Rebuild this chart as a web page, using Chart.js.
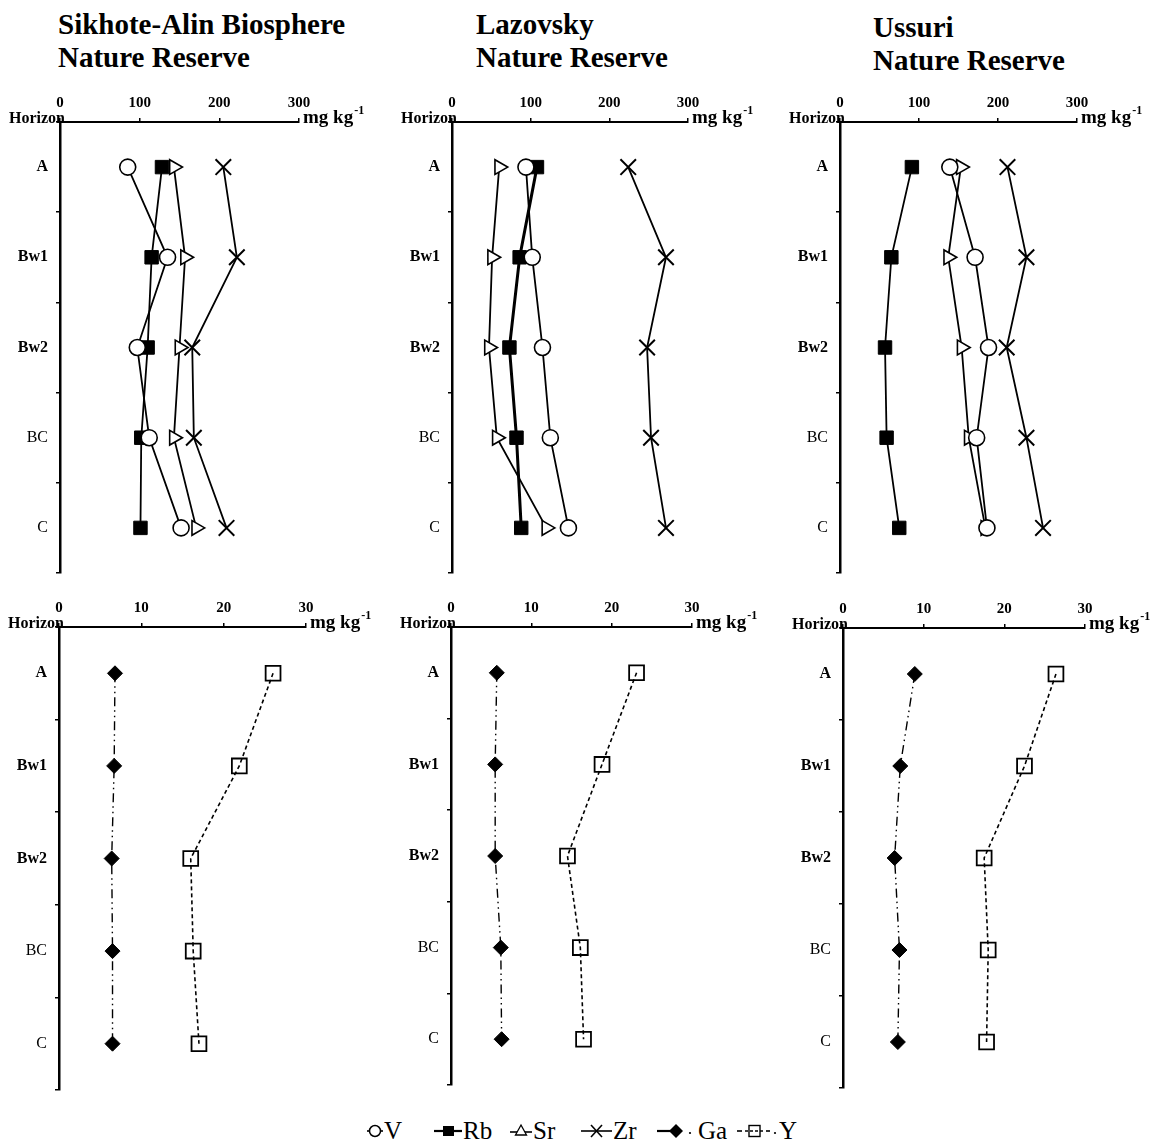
<!DOCTYPE html>
<html>
<head>
<meta charset="utf-8">
<script src="https://cdn.jsdelivr.net/npm/chart.js@4.4.1/dist/chart.umd.min.js"></script>
<style>
  body { margin: 0; background: #fff; width: 1151px; height: 1144px; position: relative; overflow: hidden;
         font-family: "Liberation Serif", "Times New Roman", serif; color: #000; }
  canvas { position: absolute; }
  .title { position: absolute; font-weight: bold; font-size: 29px; line-height: 33px; }
  .lg { position: absolute; top: 1117px; height: 28px; display: flex; align-items: center;
        font-size: 25px; white-space: nowrap; }
  .lg svg { margin-right: 1px; }
</style>
</head>
<body>
<div class="title" style="left:58px;top:8px">Sikhote-Alin Biosphere<br>Nature Reserve</div>
<div class="title" style="left:476px;top:8px">Lazovsky<br>Nature Reserve</div>
<div class="title" style="left:873px;top:11px">Ussuri<br>Nature Reserve</div>

<canvas id="c1"></canvas>
<canvas id="c2"></canvas>
<canvas id="c3"></canvas>
<canvas id="c4"></canvas>
<canvas id="c5"></canvas>
<canvas id="c6"></canvas>

<span class="lg" style="left:367px"><svg width="16" height="18"><line x1="0" y1="9" x2="16" y2="9" stroke="#000" stroke-width="1.6"/><circle cx="8" cy="9" r="5.5" fill="#fff" stroke="#000" stroke-width="1.5"/></svg>V</span>
<span class="lg" style="left:434px"><svg width="28" height="18"><line x1="0" y1="9" x2="28" y2="9" stroke="#000" stroke-width="2.2"/><rect x="9" y="4" width="11" height="10" fill="#000"/></svg>Rb</span>
<span class="lg" style="left:510px"><svg width="22" height="18"><line x1="0" y1="10" x2="22" y2="10" stroke="#000" stroke-width="1.6"/><polygon points="11,3 16.5,13 5.5,13" fill="#fff" stroke="#000" stroke-width="1.3"/></svg>Sr</span>
<span class="lg" style="left:581px"><svg width="31" height="18"><line x1="0" y1="9" x2="31" y2="9" stroke="#000" stroke-width="1.6"/><line x1="10" y1="3" x2="21" y2="15" stroke="#000" stroke-width="1.6"/><line x1="10" y1="15" x2="21" y2="3" stroke="#000" stroke-width="1.6"/></svg>Zr</span>
<span class="lg" style="left:657px"><svg width="40" height="18"><line x1="0" y1="9" x2="22" y2="9" stroke="#000" stroke-width="2.2"/><polygon points="19,2 26,9 19,16 12,9" fill="#000"/><circle cx="33" cy="11" r="1.1" fill="#000"/></svg>Ga</span>
<span class="lg" style="left:737px"><svg width="41" height="18"><line x1="0" y1="9" x2="5" y2="9" stroke="#000" stroke-width="1.6"/><rect x="12" y="3.5" width="11" height="11" fill="#fff" stroke="#000" stroke-width="1.4"/><line x1="8" y1="9" x2="28" y2="9" stroke="#000" stroke-width="1.3" stroke-dasharray="3,2"/><line x1="29" y1="9" x2="33" y2="9" stroke="#000" stroke-width="1.6"/><circle cx="38" cy="11" r="1.1" fill="#000"/></svg>Y</span>

<script>
const horizons = ['A', 'Bw1', 'Bw2', 'BC', 'C'];

// Sikhote-Alin Biosphere Nature Reserve
const sikhoteV = [85, 135, 97, 112, 152];
const sikhoteRb = [128, 115, 110, 102, 101];
const sikhoteSr = [143, 157, 150, 143, 171];
const sikhoteZr = [205, 222, 166, 168, 209];
const sikhoteGa = [6.8, 6.7, 6.4, 6.5, 6.5];
const sikhoteY = [26.0, 21.9, 16.0, 16.3, 17.0];

// Lazovsky Nature Reserve
const lazovskyV = [94, 102, 115, 125, 148];
const lazovskyRb = [108, 86, 73, 82, 88];
const lazovskySr = [60, 51, 47, 57, 120];
const lazovskyZr = [224, 272, 248, 253, 272];
const lazovskyGa = [5.7, 5.5, 5.5, 6.2, 6.3];
const lazovskyY = [23.1, 18.8, 14.5, 16.1, 16.5];

// Ussuri Nature Reserve
const ussuriV = [139, 171, 188, 173, 186];
const ussuriRb = [91, 65, 57, 59, 75];
const ussuriSr = [153, 137, 154, 163, 184];
const ussuriZr = [212, 236, 211, 236, 257];
const ussuriGa = [8.9, 7.1, 6.4, 7.0, 6.8];
const ussuriY = [26.4, 22.5, 17.5, 18.0, 17.8];

const FONT = '"Liberation Serif", "Times New Roman", serif';
Chart.defaults.font.family = FONT;
Chart.defaults.color = '#000';

function V(data) {
  return { label: 'V', data, borderColor: '#000', borderWidth: 1.8, pointStyle: 'circle', pointRadius: 8,
           pointBackgroundColor: '#fff', pointBorderColor: '#000', pointBorderWidth: 1.6 };
}
function Rb(data, w) {
  return { label: 'Rb', data, borderColor: '#000', borderWidth: w || 1.8, pointStyle: 'rect', pointRadius: 9.5,
           pointBackgroundColor: '#000', pointBorderColor: '#000', pointBorderWidth: 1 };
}
function Sr(data) {
  return { label: 'Sr', data, borderColor: '#000', borderWidth: 1.8, pointStyle: 'triangle', pointRotation: 90,
           pointRadius: 8.5, pointBackgroundColor: '#fff', pointBorderColor: '#000', pointBorderWidth: 1.6 };
}
function Zr(data) {
  return { label: 'Zr', data, borderColor: '#000', borderWidth: 1.8, pointStyle: 'crossRot', pointRadius: 11,
           pointBorderColor: '#000', pointBorderWidth: 2 };
}
function Ga(data) {
  return { label: 'Ga', data, borderColor: '#000', borderWidth: 1.4, borderDash: [9, 4, 1.5, 4, 1.5, 4],
           pointStyle: 'rectRot', pointRadius: 7.5, pointBackgroundColor: '#000', pointBorderColor: '#000', pointBorderWidth: 1 };
}
function Y(data) {
  return { label: 'Y', data, borderColor: '#000', borderWidth: 1.6, borderDash: [4, 3],
           pointStyle: 'rect', pointRadius: 10.5, pointBackgroundColor: 'rgba(255,255,255,0)', pointBorderColor: '#000', pointBorderWidth: 1.8 };
}

const axisText = {
  id: 'axisText',
  afterDraw(chart) {
    const { ctx, chartArea } = chart;
    ctx.save();
    ctx.fillStyle = '#000';
    ctx.textBaseline = 'alphabetic';
    ctx.font = 'bold 16px ' + FONT;
    ctx.textAlign = 'right';
    ctx.fillText('Horizon', chartArea.left + 5, chartArea.top + 1);
    ctx.textAlign = 'left';
    ctx.font = 'bold 19px ' + FONT;
    const x0 = chartArea.right + 4;
    ctx.fillText('mg kg', x0, chartArea.top + 1);
    const w = ctx.measureText('mg kg').width;
    ctx.font = 'bold 12px ' + FONT;
    ctx.fillText('-1', x0 + w + 1, chartArea.top - 8);
    ctx.restore();
  }
};

function panel(id, area, max, datasets) {
  const cv = document.getElementById(id);
  const padL = 60, padT = 45, padR = 80, padB = 4;
  cv.width = area.right - area.left + padL + padR;
  cv.height = area.bottom - area.top + padT + padB;
  cv.style.left = (area.left - padL) + 'px';
  cv.style.top = (area.top - padT) + 'px';
  new Chart(cv, {
    type: 'line',
    data: { labels: horizons, datasets },
    options: {
      indexAxis: 'y',
      responsive: false,
      animation: false,
      devicePixelRatio: 1,
      layout: { autoPadding: false, padding: { right: padR, bottom: padB, left: 0, top: 0 } },
      plugins: { legend: { display: false }, tooltip: { enabled: false } },
      scales: {
        x: {
          type: 'linear', position: 'top', min: 0, max: max,
          ticks: { stepSize: max / 3, padding: 6, font: { size: 15, weight: 'bold' }, color: '#000' },
          grid: { drawOnChartArea: false, tickLength: 4, color: '#000', lineWidth: 1.5 },
          border: { color: '#000', width: 2 },
          afterFit(s) { s.height = padT; s.paddingLeft = 0; s.paddingRight = 0; }
        },
        y: {
          type: 'category', offset: true,
          ticks: { padding: 8, color: '#000',
                   font: ctx => ({ size: 16, weight: ctx.index < 3 ? 'bold' : 'normal' }) },
          grid: { offset: true, drawOnChartArea: false, tickLength: 4, color: '#000', lineWidth: 1.5 },
          border: { color: '#000', width: 2.5 },
          afterFit(s) { s.width = padL; s.paddingTop = 0; s.paddingBottom = 0; }
        }
      }
    },
    plugins: [axisText]
  });
}

panel('c1', { left: 60, right: 299, top: 122, bottom: 573 }, 300,
  [V(sikhoteV), Rb(sikhoteRb), Sr(sikhoteSr), Zr(sikhoteZr)]);
panel('c2', { left: 452, right: 688, top: 122, bottom: 573 }, 300,
  [V(lazovskyV), Rb(lazovskyRb, 3), Sr(lazovskySr), Zr(lazovskyZr)]);
panel('c3', { left: 840, right: 1077, top: 122, bottom: 573 }, 300,
  [V(ussuriV), Rb(ussuriRb), Sr(ussuriSr), Zr(ussuriZr)]);
panel('c4', { left: 59, right: 306, top: 627, bottom: 1090 }, 30,
  [Ga(sikhoteGa), Y(sikhoteY)]);
panel('c5', { left: 451, right: 692, top: 627, bottom: 1085 }, 30,
  [Ga(lazovskyGa), Y(lazovskyY)]);
panel('c6', { left: 843, right: 1085, top: 628, bottom: 1088 }, 30,
  [Ga(ussuriGa), Y(ussuriY)]);
</script>
</body>
</html>
